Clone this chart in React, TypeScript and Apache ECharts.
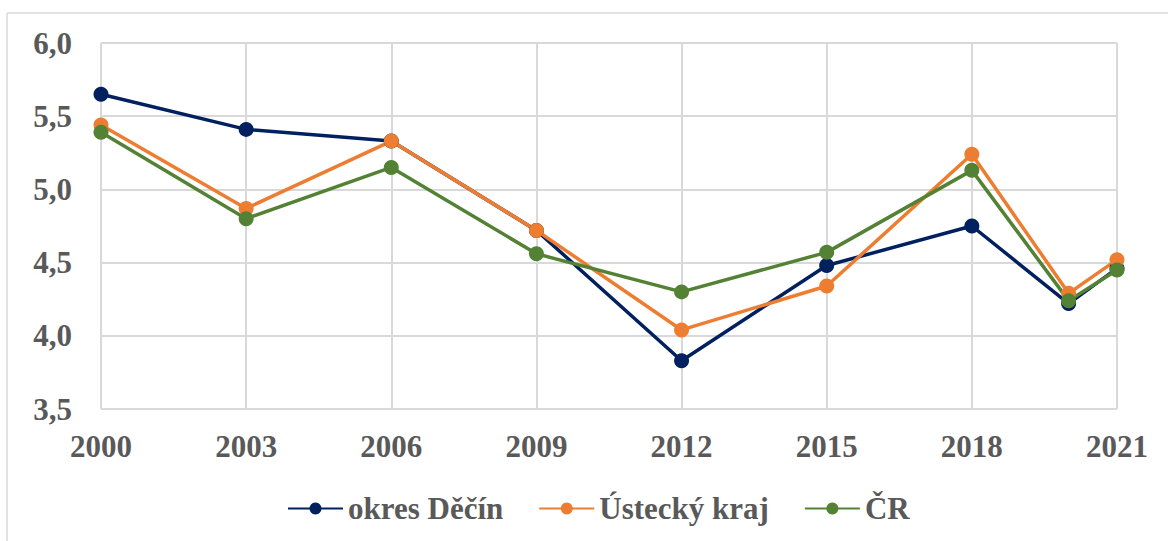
import React, { useEffect, useRef } from "react";
import * as echarts from "echarts";

const years = [2000, 2003, 2006, 2009, 2012, 2015, 2018, 2020, 2021];
const decin = [5.65, 5.41, 5.33, 4.72, 3.83, 4.48, 4.75, 4.22, 4.46];
const ustecky = [5.44, 4.87, 5.33, 4.72, 4.04, 4.34, 5.24, 4.29, 4.52];
const cr = [5.39, 4.80, 5.15, 4.56, 4.30, 4.57, 5.13, 4.24, 4.45];
const seriesNames = ["okres Děčín", "Ústecký kraj", "ČR"];
const colors = ["#002060", "#ED7D31", "#548235"];
const baseYear = 2000;

export default function App() {
  const ref = useRef<HTMLDivElement>(null);
  useEffect(() => {
    const chart = echarts.init(ref.current!, null, { renderer: "svg" });
    const font = "Liberation Serif";
    const mk = (name: string, vals: number[], color: string) => ({
      name,
      type: "line",
      data: years.map((y, i) => [y - baseYear, vals[i]]),
      symbol: "circle",
      symbolSize: 15,
      lineStyle: { color, width: 3.5 },
      itemStyle: { color },
    });
    chart.setOption({
      animation: false,
      color: colors,
      textStyle: { fontFamily: font },
      graphic: [
        { type: "line", shape: { x1: 7, y1: 13, x2: 1168, y2: 13 }, style: { stroke: "#d9d9d9", lineWidth: 1.5 } },
        { type: "line", shape: { x1: 7, y1: 13, x2: 7, y2: 541 }, style: { stroke: "#d9d9d9", lineWidth: 1.5 } },
      ],
      grid: { left: 101, right: 51, top: 43, bottom: 132 },
      legend: {
        top: 488,
        left: 282,
        itemWidth: 55,
        itemHeight: 15,
        itemGap: 35,
        textStyle: { fontFamily: font, fontWeight: "bold", fontSize: 31, color: "#595959" },
        data: seriesNames,
      },
      xAxis: {
        type: "value",
        min: 0,
        max: 21,
        interval: 3,
        axisLine: { show: false },
        axisTick: { show: false },
        splitLine: { show: true, lineStyle: { color: "#d9d9d9", width: 2 } },
        axisLabel: {
          formatter: (v: number) => String(v + baseYear),
          fontFamily: font,
          fontWeight: "bold",
          fontSize: 31,
          color: "#595959",
          margin: 22,
        },
      },
      yAxis: {
        type: "value",
        min: 3.5,
        max: 6.0,
        interval: 0.5,
        axisLine: { show: false },
        axisTick: { show: false },
        splitLine: { show: true, lineStyle: { color: "#d9d9d9", width: 2 } },
        axisLabel: {
          formatter: (v: number) => v.toFixed(1).replace(".", ","),
          fontFamily: font,
          fontWeight: "bold",
          fontSize: 31,
          color: "#595959",
          margin: 29,
        },
      },
      series: [
        mk(seriesNames[0], decin, colors[0]),
        mk(seriesNames[1], ustecky, colors[1]),
        mk(seriesNames[2], cr, colors[2]),
      ],
    });
    return () => chart.dispose();
  }, []);
  return (
    <div
      ref={ref}
      style={{ position: "fixed", left: 0, top: 0, width: 1168, height: 541, background: "#fff" }}
    />
  );
}
